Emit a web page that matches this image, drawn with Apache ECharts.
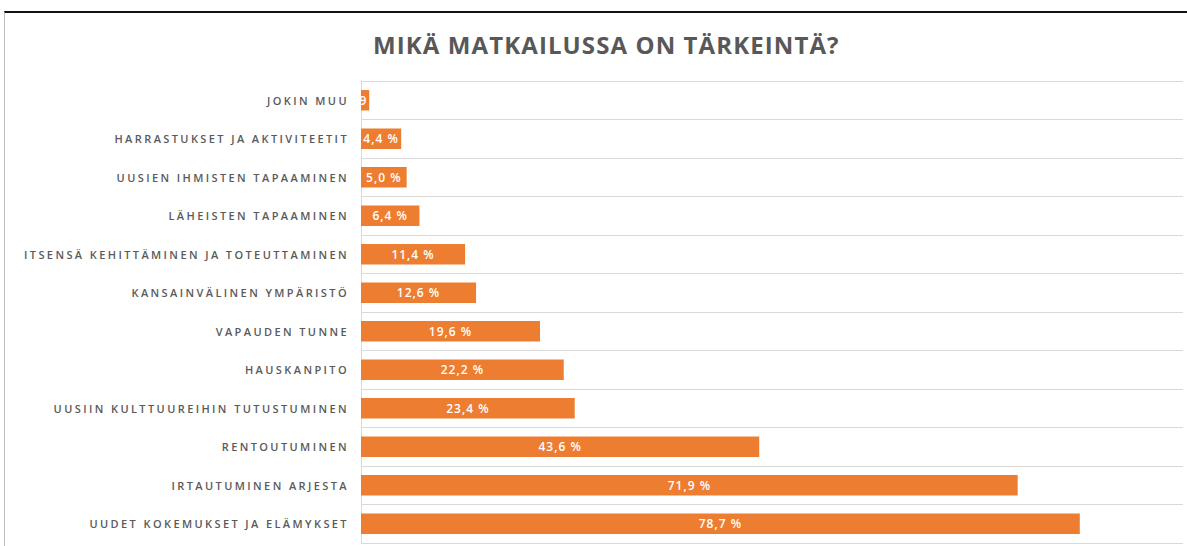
<!DOCTYPE html>
<html>
<head>
<meta charset="utf-8">
<script src="https://cdn.jsdelivr.net/npm/echarts@6/dist/echarts.min.js"></script>
<style>
  html, body { margin: 0; padding: 0; background: #fff; }
  #main { width: 1187px; height: 546px; }
  #frame { position: absolute; left: 4px; top: 11px; width: 1183px; height: 535px;
    border-top: 2px solid #111; border-left: 1px solid #bdbdbd; box-sizing: border-box; pointer-events: none; }
  /* letter spacing per text kind (svg renderer) */
  #main text[fill="#5a5a5a"] { letter-spacing: 2.4px; }
  #main text[fill="#585858"] { letter-spacing: 1.1px; }
  #main text[fill="#fff"] { letter-spacing: 1px; }
</style>
</head>
<body>
<div id="main"></div>
<div id="frame"></div>
<script>
// categories, top to bottom as in the picture
var categories = [
  'JOKIN MUU',
  'HARRASTUKSET JA AKTIVITEETIT',
  'UUSIEN IHMISTEN TAPAAMINEN',
  'LÄHEISTEN TAPAAMINEN',
  'ITSENSÄ KEHITTÄMINEN JA TOTEUTTAMINEN',
  'KANSAINVÄLINEN YMPÄRISTÖ',
  'VAPAUDEN TUNNE',
  'HAUSKANPITO',
  'UUSIIN KULTTUUREIHIN TUTUSTUMINEN',
  'RENTOUTUMINEN',
  'IRTAUTUMINEN ARJESTA',
  'UUDET KOKEMUKSET JA ELÄMYKSET'
];
var values = [0.9, 4.4, 5.0, 6.4, 11.4, 12.6, 19.6, 22.2, 23.4, 43.6, 71.9, 78.7];

var myChart = echarts.init(document.getElementById('main'), null, { renderer: 'svg' });

var option = {
  backgroundColor: '#fff',
  animation: false,
  title: {
    text: 'MIKÄ MATKAILUSSA ON TÄRKEINTÄ?',
    left: 368,
    top: 27,
    textStyle: {
      color: '#585858',
      fontFamily: 'Open Sans',
      fontWeight: 'bold',
      fontSize: 24
    }
  },
  grid: { left: 361, right: 4, top: 81, bottom: 3 },
  xAxis: {
    type: 'value',
    min: 0,
    max: 90,
    axisLabel: { show: false },
    axisLine: { show: false },
    axisTick: { show: false },
    splitLine: { show: false }
  },
  yAxis: {
    type: 'category',
    inverse: true,
    data: categories,
    axisLine: { show: true, lineStyle: { color: '#d9d9d9' } },
    axisTick: { show: false },
    splitLine: { show: true, lineStyle: { color: '#d9d9d9', width: 1 } },
    axisLabel: {
      margin: 12,
      color: '#5a5a5a',
      fontFamily: 'Open Sans',
      fontWeight: 600,
      fontSize: 11
    }
  },
  series: [{
    type: 'bar',
    data: values,
    barCategoryGap: '47%',
    itemStyle: { color: '#ED7D31' },
    label: {
      show: true,
      position: 'inside',
      color: '#fff',
      fontFamily: 'Open Sans',
      fontWeight: 600,
      fontSize: 12,
      formatter: function (p) { return p.value.toFixed(1).replace('.', ',') + ' %'; }
    }
  }]
};

option && myChart.setOption(option);
</script>
</body>
</html>
